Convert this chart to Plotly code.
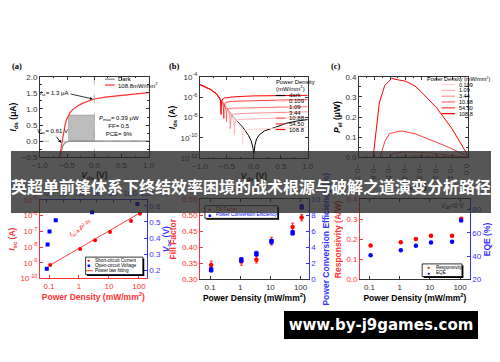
import plotly.graph_objects as go

W, H = 500, 362
FONT = "Liberation Sans, Arial, sans-serif"
SERIF = "Liberation Serif, Times New Roman, serif"
DK = "#333333"
RED = "#ff0000"
BLUE = "#0000ff"
RED_T = "#ff3333"
BLUE_T = "#3333ff"

# ---------------- (a) I-V linear ----------------
a_v_dark = [-0.64, -0.61, -0.58, -0.55, -0.52, -0.48, -0.45, -0.3, 0.0, 0.5, 1.0]
a_i_dark = [-0.5, -0.3, -0.15, -0.07, -0.03, -0.01, 0.0, 0.0, 0.0, 0.0, 0.0]
a_v_light = [-0.64, -0.61, -0.59, -0.57, -0.54, -0.51, -0.48, -0.45, -0.4, -0.3, -0.2, -0.1, 0.0, 0.2, 0.4, 0.6, 0.8, 1.0]
a_i_light = [-0.5, -0.2, 0.05, 0.28, 0.5, 0.68, 0.8, 0.88, 0.98, 1.1, 1.19, 1.26, 1.31, 1.37, 1.41, 1.45, 1.48, 1.51]
a_names = ["Dark", "108.8mW/mm<sup>2</sup>"]
a_mpp_v = -0.475
a_mpp_i = 0.81
a_isc = 1.31
a_voc = -0.61

# ---------------- (b) I-V log ----------------
b_names = ["dark", "0.109", "1.09", "3.44", "10.88", "54.50", "108.8"]
b_v_dark = [-1.0, -0.9, -0.8, -0.7, -0.6, -0.5, -0.4, -0.3, -0.2, -0.1, -0.05, -0.02, 0.0, 0.02, 0.05, 0.1, 0.2, 0.4, 0.6, 0.8, 1.0]
b_i_dark = [1.7e-5, 1.0e-5, 5.5e-6, 2.2e-6, 4.5e-7, 8e-8, 1.4e-8, 4e-9, 1e-9, 1.7e-10, 5e-11, 1.2e-11, 2.5e-12, 2e-11, 8e-11, 2e-10, 5e-10, 1.1e-9, 2.7e-9, 4.5e-9, 6.3e-9]
b_v_0109 = [-1.0, -0.9, -0.8, -0.7, -0.6, -0.5, -0.4, -0.3, -0.24, -0.22, -0.21, -0.2, -0.18, -0.15, -0.1, 0.0, 0.2, 0.5, 1.0]
b_i_0109 = [1.7e-5, 1.0e-5, 5.5e-6, 2.2e-6, 4.5e-7, 8e-8, 1.4e-8, 3.5e-9, 1.3e-9, 6e-10, 2e-11, 4e-10, 5.5e-10, 6.2e-10, 6.6e-10, 7.1e-10, 8e-10, 9.5e-10, 1.2e-9]
b_v_109 = [-1.0, -0.9, -0.8, -0.7, -0.6, -0.5, -0.42, -0.38, -0.365, -0.36, -0.355, -0.34, -0.3, -0.2, 0.0, 0.2, 0.5, 1.0]
b_i_109 = [1.7e-5, 1.0e-5, 5.5e-6, 2.2e-6, 4.5e-7, 7.5e-8, 1.6e-8, 6e-9, 2.5e-9, 2e-10, 2.5e-9, 4.8e-9, 6e-9, 6.8e-9, 7.4e-9, 8e-9, 9e-9, 1.05e-8]
b_v_344 = [-1.0, -0.9, -0.8, -0.7, -0.6, -0.5, -0.46, -0.445, -0.44, -0.435, -0.42, -0.38, -0.3, -0.1, 0.0, 0.5, 1.0]
b_i_344 = [1.7e-5, 1.0e-5, 5.5e-6, 2.2e-6, 4.5e-7, 7e-8, 2.8e-8, 9e-9, 8e-10, 9e-9, 1.7e-8, 2.2e-8, 2.4e-8, 2.6e-8, 2.7e-8, 3.1e-8, 3.6e-8]
b_v_1088 = [-1.0, -0.9, -0.8, -0.7, -0.6, -0.54, -0.515, -0.51, -0.505, -0.49, -0.45, -0.4, -0.2, 0.0, 0.5, 1.0]
b_i_1088 = [1.7e-5, 1.0e-5, 5.5e-6, 2.2e-6, 4.5e-7, 1.5e-7, 4e-8, 4e-9, 4e-8, 6.5e-8, 7.8e-8, 8.2e-8, 8.7e-8, 9.1e-8, 1.02e-7, 1.15e-7]
b_v_5450 = [-1.0, -0.9, -0.8, -0.7, -0.6, -0.575, -0.565, -0.56, -0.555, -0.54, -0.5, -0.4, -0.2, 0.0, 0.5, 1.0]
b_i_5450 = [1.7e-5, 1.0e-5, 5.5e-6, 2.2e-6, 4.5e-7, 2.3e-7, 9e-8, 8e-9, 9e-8, 2.4e-7, 3.3e-7, 3.9e-7, 4.3e-7, 4.6e-7, 5.2e-7, 5.7e-7]
b_v_1088b = [-1.0, -0.9, -0.8, -0.7, -0.64, -0.62, -0.61, -0.6, -0.58, -0.55, -0.5, -0.4, -0.2, 0.0, 0.5, 1.0]
b_i_1088b = [1.7e-5, 1.0e-5, 5.5e-6, 2.2e-6, 9e-7, 4.5e-7, 2e-8, 3.5e-7, 6.5e-7, 8e-7, 9e-7, 1.05e-6, 1.2e-6, 1.32e-6, 1.42e-6, 1.5e-6]
b_ticks = [1e-12, 1e-10, 1e-8, 1e-6, 1e-4]
b_ticktext = ["10<sup>-12</sup>", "10<sup>-10</sup>", "10<sup>-8</sup>", "10<sup>-6</sup>", "10<sup>-4</sup>"]

# ---------------- (c) electrical power ----------------
c_names = ["0.109", "1.09", "3.44", "10.88", "54.50", "108.8"]
c_v_0109 = [-0.21, -0.15, -0.1, -0.05, 0.0]
c_p_0109 = [0.0, 0.0001, 0.0001, 0.00006, 0.0]
c_v_109 = [-0.36, -0.3, -0.2, -0.1, 0.0]
c_p_109 = [0.0, 0.0016, 0.0015, 0.0008, 0.0]
c_v_344 = [-0.44, -0.4, -0.3, -0.2, -0.1, 0.0]
c_p_344 = [0.0, 0.006, 0.0075, 0.0055, 0.0027, 0.0]
c_v_1088 = [-0.51, -0.48, -0.42, -0.35, -0.25, -0.15, -0.05, 0.0]
c_p_1088 = [0.0, 0.018, 0.026, 0.026, 0.021, 0.013, 0.004, 0.0]
c_v_5450 = [-0.565, -0.535, -0.505, -0.45, -0.42, -0.34, -0.21, -0.11, 0.0]
c_p_5450 = [0.0, 0.077, 0.117, 0.128, 0.13, 0.117, 0.077, 0.045, 0.004]
c_v_1088b = [-0.61, -0.59, -0.57, -0.535, -0.49, -0.45, -0.4, -0.34, -0.3, -0.2, -0.1, 0.0]
c_p_1088b = [0.0, 0.14, 0.27, 0.357, 0.392, 0.385, 0.378, 0.354, 0.325, 0.245, 0.14, 0.01]

# ---------------- (d)(e)(f) vs power density ----------------
pd = [0.109, 1.09, 3.44, 10.88, 54.5, 108.8]
d_isc = [7.1e-10, 7.4e-9, 2.7e-8, 9.1e-8, 4.6e-7, 1.32e-6]
d_voc = [0.21, 0.36, 0.44, 0.51, 0.56, 0.61]
d_fit_pd = [0.109, 108.8]
d_fit_isc = [7.0e-10, 1.5e-6]
d_names = ["Short-circuit Current", "Open-circuit Voltage", "Power law fitting"]
d_ticks = [1e-10, 1e-9, 1e-8, 1e-7, 1e-6, 1e-5]
d_ticktext = ["10<sup>-10</sup>", "10<sup>-9</sup>", "10<sup>-8</sup>", "10<sup>-7</sup>", "10<sup>-6</sup>", "10<sup>-5</sup>"]
x_ticks = [0.1, 1, 10, 100]
x_ticktext = ["0.1", "1", "10", "100"]

e_ff = [0.345, 0.356, 0.361, 0.419, 0.463, 0.492]
e_ff_err = [0.012, 0.012, 0.010, 0.012, 0.012, 0.010]
e_pce = [1.2, 2.4, 3.2, 4.7, 5.8, 9.0]
e_pce_err = [0.3, 0.3, 0.3, 0.3, 0.3, 0.3]
e_names = ["Fill Factor", "Power Conversion Efficiency"]

f_resp = [0.170, 0.186, 0.202, 0.218, 0.218, 0.303]
f_eqe = [40.8, 45.0, 48.8, 51.7, 52.2, 70.5]
f_names = ["Responsivity", "EQE"]

title_text = "英超单前锋体系下终结效率困境的战术根源与破解之道演变分析路径"
watermark = "www.by-j9games.com"

# ---------------- styles ----------------
b_colors = ["#000000", "#ffd2d2", "#ffb4b4", "#ff9090", "#ff6a6a", "#ff3c3c", "#ff0000"]
c_colors = b_colors[1:]


def dx(l, r):
    return [l / W, r / W]


def dy(t, b):
    return [1 - b / H, 1 - t / H]


def tf(color=DK, size=8):
    return dict(family=FONT, size=size, color=color)


def ttl(text, color="#000", size=8.5, standoff=None):
    d = dict(text=text, font=dict(family=FONT, size=size, color=color))
    if standoff is not None:
        d["standoff"] = standoff
    return d


def ax(color=DK, **kw):
    d = dict(showline=True, linewidth=1, linecolor=color, ticks="inside", ticklen=3, tickwidth=1,
             tickcolor=color, tickfont=tf(color), showgrid=False, zeroline=False)
    d.update(kw)
    return d


def mn(dt=None, color=DK):
    d = dict(ticks="inside", ticklen=1.5, tickcolor=color, showgrid=False)
    if dt is not None:
        d["dtick"] = dt
    return d


fig = go.Figure()

# (a)
fig.add_trace(go.Scatter(x=a_v_dark, y=a_i_dark, mode="lines", line=dict(color="#888888", width=1.2), xaxis="x", yaxis="y"))
fig.add_trace(go.Scatter(x=a_v_light, y=a_i_light, mode="lines", line=dict(color="#ff3030", width=1.2), xaxis="x", yaxis="y"))

# (b)
b_sets = [(b_v_dark, b_i_dark), (b_v_0109, b_i_0109), (b_v_109, b_i_109), (b_v_344, b_i_344),
          (b_v_1088, b_i_1088), (b_v_5450, b_i_5450), (b_v_1088b, b_i_1088b)]
for (vv, ii), col in zip(b_sets, b_colors):
    fig.add_trace(go.Scatter(x=vv, y=ii, mode="lines", line=dict(color=col, width=1), xaxis="x2", yaxis="y2"))

# (c)
c_sets = [(c_v_0109, c_p_0109), (c_v_109, c_p_109), (c_v_344, c_p_344), (c_v_1088, c_p_1088),
          (c_v_5450, c_p_5450), (c_v_1088b, c_p_1088b)]
for (vv, pp), col in zip(c_sets, c_colors):
    fig.add_trace(go.Scatter(x=vv, y=pp, mode="lines", line=dict(color=col, width=1), xaxis="x3", yaxis="y3"))

# (d)
fig.add_trace(go.Scatter(x=d_fit_pd, y=d_fit_isc, mode="lines", line=dict(color="#ff4040", width=1), xaxis="x4", yaxis="y4"))
fig.add_trace(go.Scatter(x=pd, y=d_isc, mode="markers", marker=dict(color=RED, size=4, symbol="circle"), xaxis="x4", yaxis="y4"))
fig.add_trace(go.Scatter(x=pd, y=d_voc, mode="markers", marker=dict(color=BLUE, size=4, symbol="square"), xaxis="x5", yaxis="y5"))

# (e)
fig.add_trace(go.Scatter(x=pd, y=e_ff, mode="markers", marker=dict(color=RED, size=4.5, symbol="circle"),
                         error_y=dict(type="data", array=e_ff_err, color=RED, thickness=0.8, width=1.5), xaxis="x6", yaxis="y6"))
fig.add_trace(go.Scatter(x=pd, y=e_pce, mode="markers", marker=dict(color=BLUE, size=4.5, symbol="square"),
                         error_y=dict(type="data", array=e_pce_err, color=BLUE, thickness=0.8, width=1.5), xaxis="x6", yaxis="y7"))

# (f)
fig.add_trace(go.Scatter(x=pd, y=f_resp, mode="markers", marker=dict(color=RED, size=4.5, symbol="circle"), xaxis="x7", yaxis="y8"))
fig.add_trace(go.Scatter(x=pd, y=f_eqe, mode="markers", marker=dict(color=BLUE, size=4.5, symbol="circle"), xaxis="x7", yaxis="y9"))

shapes = []
annotations = []

# (a) decorations
shapes.append(dict(type="rect", xref="x", yref="y", x0=a_mpp_v, x1=0, y0=0, y1=a_mpp_i,
                   fillcolor="#bdbdbd", line=dict(width=0.6, color="#999"), layer="below"))
shapes.append(dict(type="line", xref="x", yref="y domain", x0=0, x1=0, y0=0, y1=1,
                   line=dict(color="#aaaaaa", width=0.8, dash="dash"), layer="below"))
shapes.append(dict(type="line", xref="x domain", yref="y", x0=0, x1=1, y0=0, y1=0,
                   line=dict(color="#aaaaaa", width=0.8, dash="dash"), layer="below"))


def txt(x, y, text, color="#000", size=6, xanchor="left", yanchor="middle", **kw):
    d = dict(x=x / W, y=1 - y / H, xref="paper", yref="paper", text=text, showarrow=False,
             xanchor=xanchor, yanchor=yanchor, font=dict(family=FONT, size=size, color=color),
             borderpad=0)
    d.update(kw)
    annotations.append(d)


def lline(x0, x1, y, color, width=1.2):
    shapes.append(dict(type="line", xref="paper", yref="paper", x0=x0 / W, x1=x1 / W,
                       y0=1 - y / H, y1=1 - y / H, line=dict(color=color, width=width)))


def lbox(x0, y0, x1, y1):
    shapes.append(dict(type="rect", xref="paper", yref="paper", x0=(x0 + 1.5) / W, x1=(x1 + 1.5) / W,
                       y0=1 - (y1 + 1.5) / H, y1=1 - (y0 + 1.5) / H, fillcolor="#000", line=dict(width=0)))
    shapes.append(dict(type="rect", xref="paper", yref="paper", x0=x0 / W, x1=x1 / W,
                       y0=1 - y1 / H, y1=1 - y0 / H, fillcolor="#fff", line=dict(color="#000", width=0.8)))


# panel labels
for lab, x in zip(["(a)", "(b)", "(c)"], [9, 172, 338]):
    annotations.append(dict(x=x / W, y=1 - 62 / H, xref="paper", yref="paper", text="<b>" + lab + "</b>",
                            showarrow=False, xanchor="center", yanchor="middle",
                            font=dict(family=SERIF, size=8.5, color="#000")))

# (a) annotations
annotations.append(dict(x=-0.03, y=a_isc, xref="x", yref="y", ax=-22, ay=-5,
                        text="<i>I</i><sub>sc</sub>= 1.3 μA", showarrow=True, arrowhead=2, arrowsize=0.7,
                        arrowwidth=0.8, arrowcolor="#000", font=tf("#000", 6), xanchor="right"))
annotations.append(dict(x=a_voc, y=-0.05, xref="x", yref="y", ax=-9, ay=-11,
                        text="<i>V</i><sub>oc</sub>= 0.61 V", showarrow=True, arrowhead=2, arrowsize=0.7,
                        arrowwidth=0.8, arrowcolor="#000", font=tf("#000", 6)))
txt(93, 124, "<i>P</i><sub>max</sub>= 0.39 μW<br>FF= 0.5<br>PCE= 9%", size=6)
lline(100, 110, 75.5, "#888888")
txt(112, 75.5, a_names[0], size=6)
lline(100, 110, 81.5, "#ff3030")
txt(112, 81.5, a_names[1], size=6)

# (b) legend
txt(275, 78, "Power Density", size=6)
txt(275, 84.5, "(mW/mm<sup>2</sup>)", size=6)
for i, (nm, col) in enumerate(zip(b_names, b_colors)):
    y = 92.3 + 5.85 * i
    lline(276, 286, y, col)
    txt(289, y, nm, size=6)

# (c) legend
txt(431, 75, "Power Density (mW/mm<sup>2</sup>)", size=5.5)
for i, (nm, col) in enumerate(zip(c_names, c_colors)):
    y = 81 + 6.0 * i
    lline(447, 461, y, col)
    txt(464, y, nm, size=5.5)

# (d) legend + fit label
lbox(80, 259, 139, 277)
txt(83, 262.3, "●", color=RED, size=5, xanchor="center")
txt(89, 262.3, d_names[0], size=4.6)
txt(83, 267.6, "■", color=BLUE, size=5, xanchor="center")
txt(89, 267.6, d_names[1], size=4.6)
lline(80.5, 87.5, 273, "#ff4040", 1)
txt(89, 273, d_names[2], size=4.6)
txt(75, 229, "<i>I</i><sub>sc</sub>∝<i>P</i><sup>1.06</sup>", color=RED, size=6.5, xanchor="center",
    textangle=-30)

# (e) legend
lbox(203, 206, 278, 219)
txt(208, 209.5, "●", color=RED, size=5, xanchor="center")
txt(213, 209.5, e_names[0], color=RED, size=4.8)
txt(208, 215.2, "■", color=BLUE, size=5, xanchor="center")
txt(213, 215.2, e_names[1], color=BLUE, size=4.8)

# (f) legend + note
lbox(427, 266, 468, 279)
txt(434, 269.5, "●", color=RED, size=5, xanchor="center")
txt(440, 269.5, f_names[0], size=4.6)
txt(434, 275.2, "●", color=BLUE, size=5, xanchor="center")
txt(440, 275.2, f_names[1], size=4.6)
txt(458, 206, "<i>V</i><sub>ds</sub>=0 V", size=6.5, xanchor="center")

# banner overlay and title text
annotations.append(dict(x=250 / W, y=1 - 181 / H, xref="paper", yref="paper", text=" ", showarrow=False,
                        width=480, height=62, bgcolor="rgba(38,38,38,0.78)", borderpad=0, borderwidth=0,
                        xanchor="center", yanchor="middle"))
annotations.append(dict(x=250 / W, y=1 - 185.5 / H, xref="paper", yref="paper", text="<b>" + title_text + "</b>",
                        showarrow=False, xanchor="center", yanchor="middle",
                        font=dict(family="Noto Sans CJK SC", size=16, color="#ffffff")))
# watermark
annotations.append(dict(x=385 / W, y=1 - 329 / H, xref="paper", yref="paper", text="<b>" + watermark + "</b>",
                        showarrow=False, width=194, height=28, bgcolor="#000000", borderpad=0, borderwidth=0,
                        xanchor="center", yanchor="middle",
                        font=dict(family="DejaVu Sans", size=15, color="#ffffff")))

fig.update_layout(
    width=W, height=H, autosize=False, margin=dict(l=0, r=0, t=0, b=0),
    paper_bgcolor="#ffffff", plot_bgcolor="#ffffff", showlegend=False,
    xaxis=ax(domain=dx(33, 145), anchor="y", range=[-1, 1], dtick=0.5, tickformat=".1f", mirror="ticks",
             minor=mn(0.25), title=ttl("<b><i>V</i><sub>ds</sub> (V)</b>", standoff=3)),
    yaxis=ax(domain=dy(73, 156), anchor="x", range=[-0.5, 2.0], dtick=0.5, tickformat=".1f", mirror="ticks",
             minor=mn(0.25), title=ttl("<b><i>I</i><sub>ds</sub> (μA)</b>", standoff=3)),
    xaxis2=ax(domain=dx(198, 309), anchor="y2", range=[-1, 1], dtick=0.5, tickformat=".1f", mirror="ticks",
              minor=mn(0.25), title=ttl("<b><i>V</i><sub>ds</sub> (V)</b>", standoff=3)),
    yaxis2=ax(domain=dy(73, 157), anchor="x2", type="log", range=[-12, -4], tickvals=b_ticks,
              ticktext=b_ticktext, mirror="ticks", title=ttl("<b><i>I</i><sub>ds</sub> (A)</b>", standoff=3)),
    xaxis3=ax(domain=dx(362, 474), anchor="y3", range=[-0.7, 0.0], dtick=0.1, tickformat=".1f", mirror="ticks",
              minor=mn(0.05), title=ttl("<b><i>V</i><sub>ds</sub> (V)</b>", standoff=3)),
    yaxis3=ax(domain=dy(73, 156), anchor="x3", range=[0, 0.4], dtick=0.1, tickformat=".1f", mirror="ticks",
              minor=mn(0.05), title=ttl("<b><i>P</i><sub>el</sub> (μW)</b>", standoff=3)),
    # (d)
    xaxis4=ax(color=RED_T, domain=dx(33, 143), anchor="y4", type="log", range=[-1.3, 2.26], tickvals=x_ticks,
              ticktext=x_ticktext, title=ttl("<b>Power Density (mW/mm<sup>2</sup>)</b>", color=RED_T, standoff=2)),
    xaxis5=ax(color=BLUE_T, overlaying="x4", side="top", anchor="y4", range=[-8, 120], dtick=20),
    yaxis4=ax(color=RED_T, domain=dy(200, 281), anchor="x4", type="log", range=[-10, -5], tickvals=d_ticks,
              ticktext=d_ticktext, title=ttl("<b><i>I</i><sub>sc</sub> (A)</b>", color=RED_T, standoff=3)),
    yaxis5=ax(color=BLUE_T, overlaying="y4", side="right", anchor="x4", range=[0.15, 0.636], dtick=0.1,
              tickformat=".1f", title=ttl("<b><i>V</i><sub>oc</sub> (V)</b>", color=BLUE_T, standoff=3)),
    # (e)
    xaxis6=ax(domain=dx(198, 310), anchor="y6", type="log", range=[-1.33, 2.27], tickvals=x_ticks,
              ticktext=x_ticktext, mirror="ticks",
              title=ttl("<b>Power Density (mW/mm<sup>2</sup>)</b>", standoff=2)),
    yaxis6=ax(color=RED_T, domain=dy(199, 282), anchor="x6", range=[0.30, 0.55], dtick=0.05, tickformat=".2f",
              title=ttl("<b>Fill Factor</b>", color=RED_T, standoff=3)),
    yaxis7=ax(color=BLUE_T, overlaying="y6", side="right", anchor="x6", range=[0, 10], dtick=2,
              title=ttl("<b>Power Conversion Efficiency (%)</b>", color=BLUE_T, standoff=3)),
    # (f)
    xaxis7=ax(domain=dx(363, 476), anchor="y8", type="log", range=[-1.31, 2.32], tickvals=x_ticks,
              ticktext=x_ticktext, mirror="ticks",
              title=ttl("<b>Power Density (mW/mm<sup>2</sup>)</b>", standoff=2)),
    yaxis8=ax(color=RED_T, domain=dy(199.5, 282), anchor="x7", range=[0, 0.4], dtick=0.1, tickformat=".1f",
              title=ttl("<b>Responsivity (A/W)</b>", color=RED_T, standoff=3)),
    yaxis9=ax(color=BLUE_T, overlaying="y8", side="right", anchor="x7", range=[20, 88.5], dtick=20,
              title=ttl("<b>EQE (%)</b>", color=BLUE_T, standoff=3)),
    shapes=shapes,
    annotations=annotations,
)

fig.write_html("out.html", config={"displayModeBar": False},
               post_script="document.body.style.margin='0';document.body.style.overflow='hidden';")
